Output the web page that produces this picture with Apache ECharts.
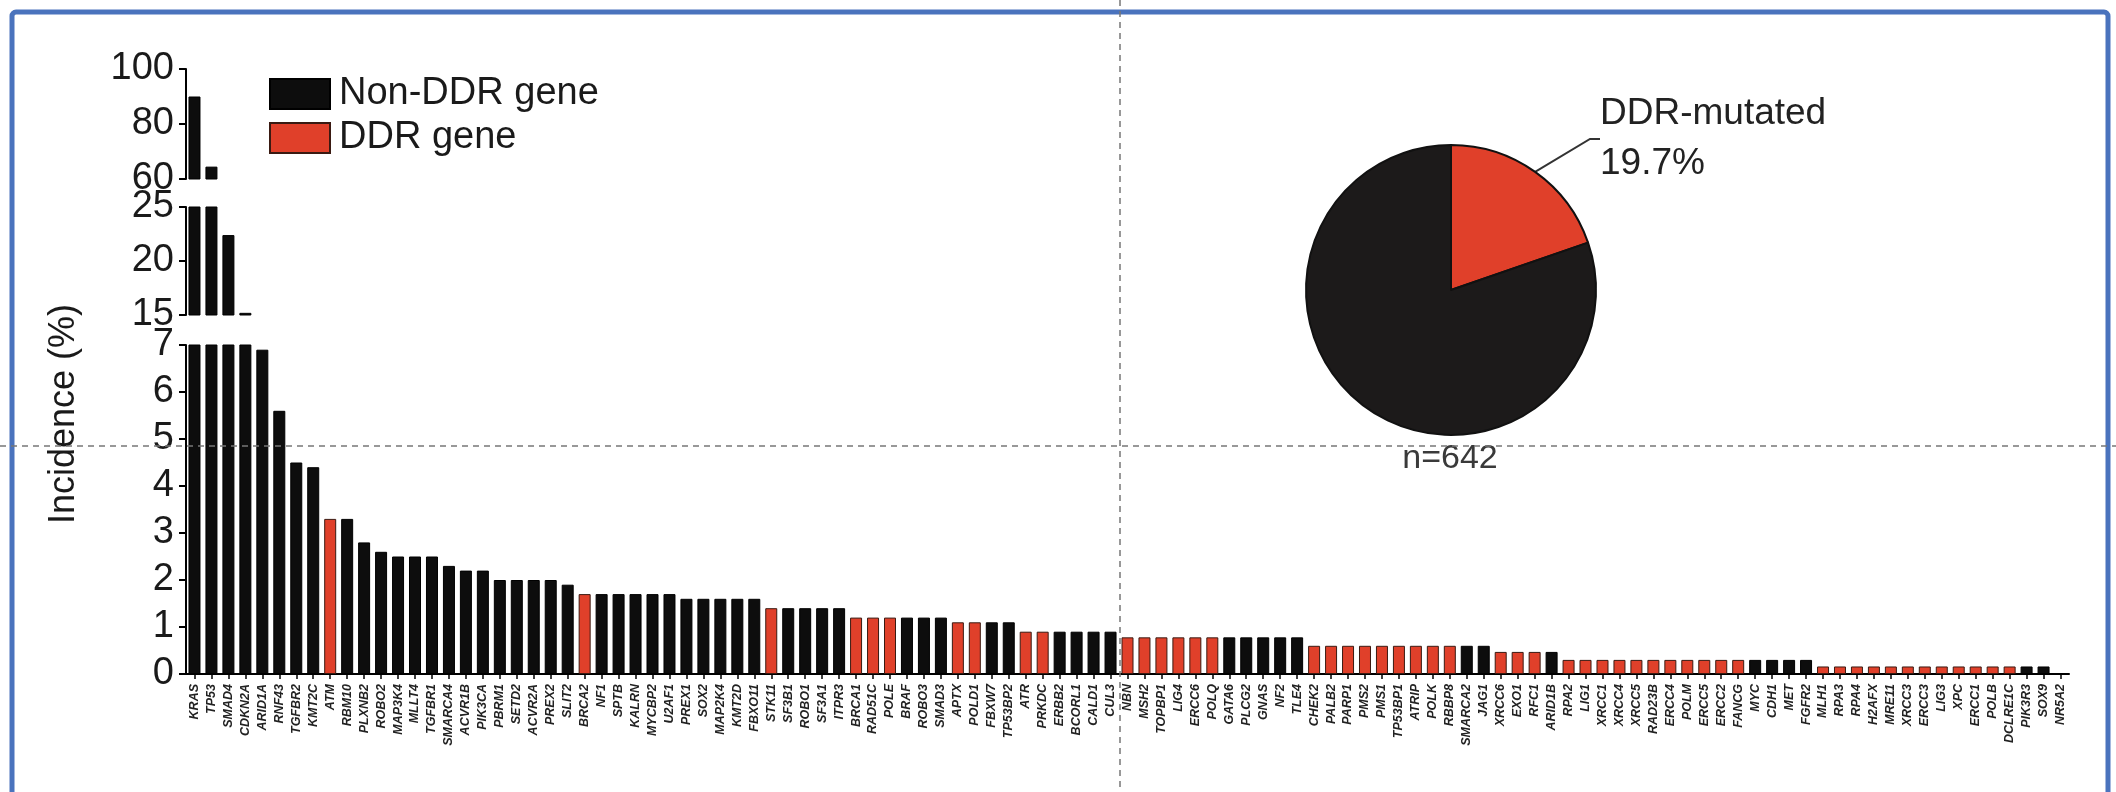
<!DOCTYPE html>
<html>
<head>
<meta charset="utf-8">
<script src="https://cdn.jsdelivr.net/npm/echarts@6/dist/echarts.min.js"></script>
<style>
html, body { margin: 0; padding: 0; background: #fff; }
#chart { width: 2116px; height: 792px; }
</style>
</head>
<body>
<div id="chart"></div>
<script>
// genes, sorted by incidence
var genes = ['KRAS','TP53','SMAD4','CDKN2A','ARID1A','RNF43','TGFBR2','KMT2C','ATM','RBM10',
    'PLXNB2','ROBO2','MAP3K4','MLLT4','TGFBR1','SMARCA4','ACVR1B','PIK3CA','PBRM1','SETD2',
    'ACVR2A','PREX2','SLIT2','BRCA2','NF1','SPTB','KALRN','MYCBP2','U2AF1','PREX1',
    'SOX2','MAP2K4','KMT2D','FBXO11','STK11','SF3B1','ROBO1','SF3A1','ITPR3','BRCA1',
    'RAD51C','POLE','BRAF','ROBO3','SMAD3','APTX','POLD1','FBXW7','TP53BP2','ATR',
    'PRKDC','ERBB2','BCORL1','CALD1','CUL3','NBN','MSH2','TOPBP1','LIG4','ERCC6',
    'POLQ','GATA6','PLCG2','GNAS','NF2','TLE4','CHEK2','PALB2','PARP1','PMS2',
    'PMS1','TP53BP1','ATRIP','POLK','RBBP8','SMARCA2','JAG1','XRCC6','EXO1','RFC1',
    'ARID1B','RPA2','LIG1','XRCC1','XRCC4','XRCC5','RAD23B','ERCC4','POLM','ERCC5',
    'ERCC2','FANCG','MYC','CDH1','MET','FGFR2','MLH1','RPA3','RPA4','H2AFX',
    'MRE11','XRCC3','ERCC3','LIG3','XPC','ERCC1','POLB','DCLRE1C','PIK3R3','SOX9',
    'NR5A2'];

// incidence (%)
var incidence = [90.0,64.5,22.4,15.2,6.9,5.6,4.5,4.4,3.3,3.3,
    2.8,2.6,2.5,2.5,2.5,2.3,2.2,2.2,2.0,2.0,
    2.0,2.0,1.9,1.7,1.7,1.7,1.7,1.7,1.7,1.6,
    1.6,1.6,1.6,1.6,1.4,1.4,1.4,1.4,1.4,1.2,
    1.2,1.2,1.2,1.2,1.2,1.1,1.1,1.1,1.1,0.9,
    0.9,0.9,0.9,0.9,0.9,0.78,0.78,0.78,0.78,0.78,
    0.78,0.78,0.78,0.78,0.78,0.78,0.6,0.6,0.6,0.6,
    0.6,0.6,0.6,0.6,0.6,0.6,0.6,0.47,0.47,0.47,
    0.47,0.3,0.3,0.3,0.3,0.3,0.3,0.3,0.3,0.3,
    0.3,0.3,0.3,0.3,0.3,0.3,0.16,0.16,0.16,0.16,
    0.16,0.16,0.16,0.16,0.16,0.16,0.16,0.16,0.16,0.16,
    0];

// 1 = DDR gene
var ddrFlag = [0,0,0,0,0,0,0,0,1,0,
    0,0,0,0,0,0,0,0,0,0,
    0,0,0,1,0,0,0,0,0,0,
    0,0,0,0,1,0,0,0,0,1,
    1,1,0,0,0,1,1,0,0,1,
    1,0,0,0,0,1,1,1,1,1,
    1,0,0,0,0,0,1,1,1,1,
    1,1,1,1,1,0,0,1,1,1,
    0,1,1,1,1,1,1,1,1,1,
    1,1,0,0,0,0,1,1,1,1,
    1,1,1,1,1,1,1,1,0,0,
    0];

// broken y axis: three segments, top to bottom
var segMin = [60, 15, 0];
var segMax = [100, 25, 7];
var segStep = [20, 5, 1];
var segTop = [69, 207, 345];
var segHeight = [110, 108, 329];

var pieNames = ['DDR-mutated', 'Non-DDR-mutated'];
var pieValues = [19.7, 80.3];

var BLACK = '#0d0d0d';
var RED = '#e0402a';
var FONT = 'Liberation Sans';

var nonDdrData = [];
var ddrData = [];
for (var i = 0; i < genes.length; i++) {
    nonDdrData.push(ddrFlag[i] ? '-' : incidence[i]);
    ddrData.push(ddrFlag[i] ? incidence[i] : '-');
}

var grids = [], xAxes = [], yAxes = [], series = [];
for (var s = 0; s < 3; s++) {
    var last = (s == 2);
    grids.push({ left: 186, width: 1883, top: segTop[s], height: segHeight[s] });
    xAxes.push({
        type: 'category',
        gridIndex: s,
        data: genes,
        show: last,
        axisLine: { show: last, lineStyle: { color: '#000', width: 2 } },
        axisTick: { show: last, alignWithLabel: true, length: 5, lineStyle: { color: '#000', width: 1.5 } },
        axisLabel: {
            show: last, interval: 0, rotate: 90, margin: 10,
            fontSize: 12.5, fontStyle: 'italic', fontWeight: 'bold',
            fontFamily: FONT, color: '#222'
        }
    });
    yAxes.push({
        type: 'value',
        gridIndex: s,
        min: segMin[s],
        max: segMax[s],
        interval: segStep[s],
        axisLine: { show: true, lineStyle: { color: '#000', width: 2 } },
        axisTick: { show: true, length: 7, lineStyle: { color: '#000', width: 2 } },
        axisLabel: { fontSize: 38, fontFamily: FONT, color: '#1a1a1a', margin: 12 },
        splitLine: { show: false }
    });
    series.push({
        name: 'Non-DDR gene', type: 'bar',
        xAxisIndex: s, yAxisIndex: s,
        barWidth: 12, barGap: '-100%',
        itemStyle: { color: BLACK, borderColor: '#000', borderWidth: 1 },
        data: nonDdrData
    });
    series.push({
        name: 'DDR gene', type: 'bar',
        xAxisIndex: s, yAxisIndex: s,
        barWidth: 12, barGap: '-100%',
        itemStyle: { color: RED, borderColor: '#3a1a12', borderWidth: 1 },
        data: ddrData
    });
}

series.push({
    type: 'pie',
    center: [1451, 290],
    radius: 145,
    startAngle: 90,
    clockwise: true,
    silent: true,
    itemStyle: { borderColor: '#111', borderWidth: 2 },
    label: {
        show: true,
        formatter: '{b}\n{d}%',
        fontSize: 37, fontFamily: FONT, color: '#222',
        lineHeight: 50, align: 'left'
    },
    labelLine: { show: true, length: 20, length2: 10, lineStyle: { color: '#333', width: 2 } },
    labelLayout: { x: 1600, y: 139, align: 'left', verticalAlign: 'middle' },
    data: [
        { name: pieNames[0], value: pieValues[0], itemStyle: { color: RED } },
        { name: pieNames[1], value: pieValues[1], itemStyle: { color: '#1c1a1a' },
          label: { show: false }, labelLine: { show: false } }
    ]
});

var chart = echarts.init(document.getElementById('chart'));
chart.setOption({
    animation: false,
    backgroundColor: '#fff',
    legend: {
        data: ['Non-DDR gene', 'DDR gene'],
        orient: 'vertical',
        left: 264, top: 70,
        icon: 'rect',
        itemWidth: 60, itemHeight: 30, itemGap: 6,
        textStyle: { fontSize: 38, fontFamily: FONT, color: '#1a1a1a', padding: [0, 0, 0, 4] }
    },
    grid: grids,
    xAxis: xAxes,
    yAxis: yAxes,
    series: series,
    graphic: [
        { type: 'rect', shape: { x: 12, y: 12, width: 2096, height: 800, r: 4 },
          style: { fill: null, stroke: '#4a73bd', lineWidth: 5 }, z: 100 },
        { type: 'text', x: 64, y: 414, rotation: Math.PI / 2,
          style: { text: 'Incidence (%)', fontSize: 36, fontFamily: FONT, fill: '#1a1a1a',
                   align: 'center', verticalAlign: 'middle' } },
        { type: 'text', x: 1450, y: 459,
          style: { text: 'n=642', fontSize: 34, fontFamily: FONT, fill: '#3a3a3a',
                   align: 'center', verticalAlign: 'middle' } },
        { type: 'line', shape: { x1: 0, y1: 446, x2: 2116, y2: 446 },
          style: { stroke: '#777', lineWidth: 1.5, lineDash: [6, 5] }, z: 100 },
        { type: 'line', shape: { x1: 1120, y1: 0, x2: 1120, y2: 792 },
          style: { stroke: '#777', lineWidth: 1.5, lineDash: [6, 5] }, z: 100 }
    ]
});
</script>
</body>
</html>
